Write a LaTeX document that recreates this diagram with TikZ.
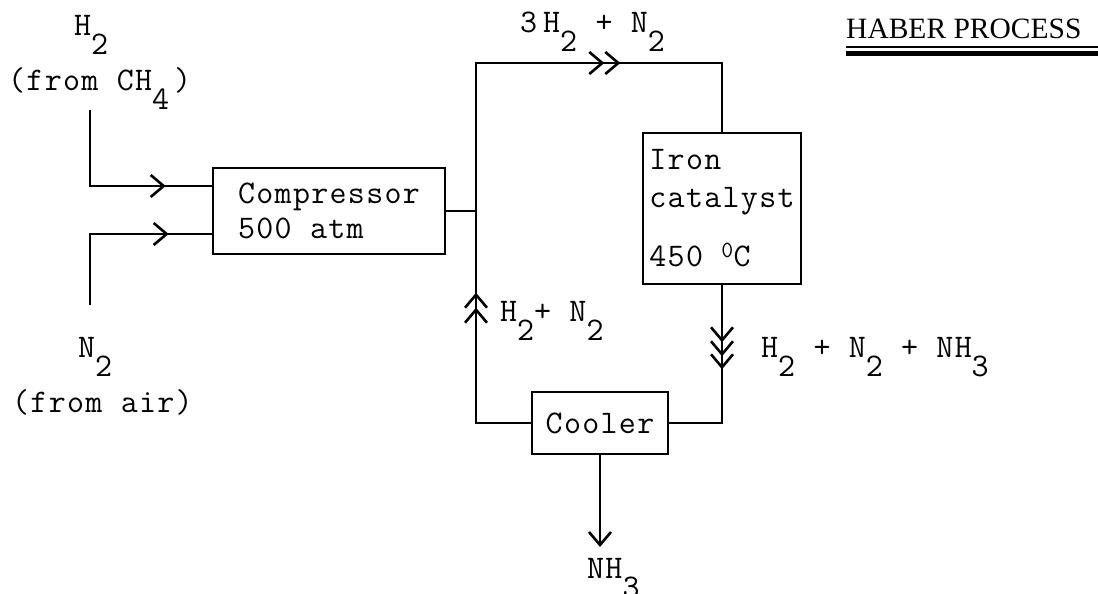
\documentclass[tikz,border=0pt]{standalone}
\usepackage{fontspec}
\setmainfont{Liberation Serif}
\newfontfamily\monofont[LetterSpace=4]{Latin Modern Mono}
\usetikzlibrary{arrows.meta, decorations.markings}
\newcommand\lo[1]{\raisebox{-19pt}{#1}}

\begin{document}
\begin{tikzpicture}[
    x=1pt, y=1pt,
    chev/.tip={Straight Barb[length=13pt, width=22pt]},
    pipe/.style={line width=2.6pt},
    unit/.style={draw, pipe, inner sep=0pt, align=left,
                 font=\monofont\fontsize{33}{35}\selectfont},
    lab/.style={inner sep=0pt, anchor=base west,
                font=\monofont\fontsize{33}{35}\selectfont},
    chevat/.style={postaction={decorate, decoration={markings,
                   mark=at position #1 with {\arrow{chev}}}}}
  ]
  \useasboundingbox (0,0) rectangle (1098,-594);

  % process units
  \node[unit, minimum width=232pt, minimum height=86pt] (comp) at (329,-211) {Compressor\\500 atm};
  \node[unit, minimum width=158pt, minimum height=151pt] (cat) at (722,-208.5)
       {Iron\\[3pt]catalyst\\[24pt]450 \textsuperscript{0}C};
  \node[unit, minimum width=136pt, minimum height=62pt, align=center] (cool) at (600,-423) {Cooler};

  % stream labels
  \node[lab] (h2)    at (74,-36)   {H\lo{2}};
  \node[lab] (ch4)   at (8,-90)    {(from CH\lo{4}\hspace{5pt})};
  \node[lab] (n2)    at (78,-357)  {N\lo{2}};
  \node[lab] (air)   at (12,-412)  {(from air)};
  \node[lab] (feed)  at (520,-33)  {3\hspace{6pt}H\lo{2} + N\lo{2}};
  \node[lab] (recyc) at (500,-321) {H\lo{2}+ N\lo{2}};
  \node[lab] (mix)   at (761,-357) {H\lo{2} + N\lo{2} + NH\lo{3}};
  \node[lab] (nh3)   at (587,-578) {NH\lo{3}};

  % title
  \node[anchor=base west, inner sep=0pt, font=\fontsize{29.5}{34}\selectfont] (title) at (846,-39) {HABER PROCESS};
  \draw[line width=2.5pt] ([yshift=-8pt]title.base west) -- ++(252,0);
  \draw[line width=5pt] ([yshift=-15pt]title.base west) -- ++(252,0);

  \coordinate (h2src) at (90,-110);
  \coordinate (n2src) at (90,-305);
  \coordinate (jn)    at (476,-211);
  \coordinate (tl)    at (476,-63);
  \coordinate (nh3in) at (600,-547);

  % pipes
  \draw[pipe, chevat=-46pt] (h2src) |- ([yshift=25pt]comp.west);
  \draw[pipe, chevat=-43pt] (n2src) |- ([yshift=-23pt]comp.west);
  \draw[pipe] (comp.east) -- (jn);
  \draw[pipe, chevat=170pt, chevat=185pt, chevat=543pt, chevat=559pt] (cool.west) -| (tl) -| (cat.north);
  \draw[pipe, chevat=57pt, chevat=71pt, chevat=84pt] (cat.south) |- (cool.east);
  \draw[pipe, -chev] (cool.south) -- (nh3in);
\end{tikzpicture}
\end{document}
